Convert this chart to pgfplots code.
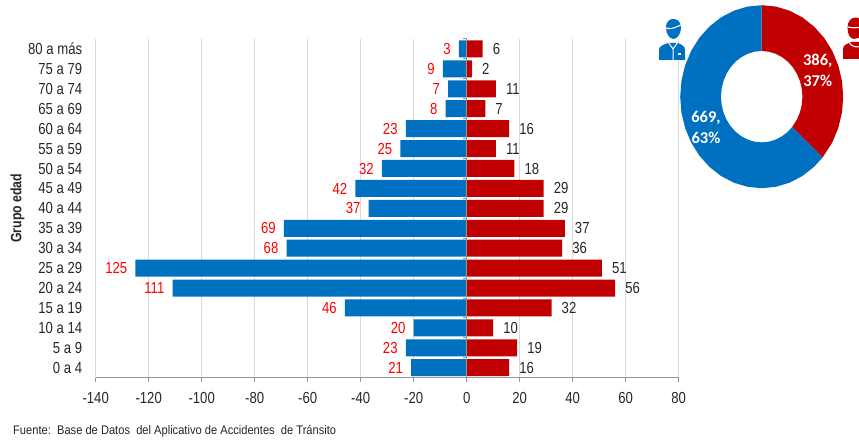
\documentclass[border=0pt]{standalone}
\usepackage{pgfplots}
\usepackage{pgfplotstable}
\pgfplotsset{compat=1.18}
\usepackage{fontspec}
\setmainfont[FakeStretch=0.82]{Liberation Sans}
\newfontfamily\fuentefont[FakeStretch=0.89]{Liberation Sans}
\newfontfamily\donutfont{Carlito}
\definecolor{azul}{HTML}{0070C0}
\definecolor{rojo}{HTML}{C00000}
\definecolor{rejilla}{HTML}{D9D9D9}
\definecolor{eje}{HTML}{969696}

\pgfplotstableread{
pos grupo azul rojo
0 {0 a 4} 21 16
1 {5 a 9} 23 19
2 {10 a 14} 20 10
3 {15 a 19} 46 32
4 {20 a 24} 111 56
5 {25 a 29} 125 51
6 {30 a 34} 68 36
7 {35 a 39} 69 37
8 {40 a 44} 37 29
9 {45 a 49} 42 29
10 {50 a 54} 32 18
11 {55 a 59} 25 11
12 {60 a 64} 23 16
13 {65 a 69} 8 7
14 {70 a 74} 7 11
15 {75 a 79} 9 2
16 {80 a más} 3 6
}\piramide

\begin{document}
\begin{tikzpicture}[x=1pt,y=1pt]
\path[use as bounding box] (0,0) rectangle (859,441);

\begin{axis}[
    at={(95.7pt,63.3pt)},
    anchor=south west,
    scale only axis,
    width=583pt,
    height=338.7pt,
    xmin=-140, xmax=80,
    ymin=-0.5, ymax=16.5,
    xtick={-140,-120,...,80},
    ytick={0,...,16},
    yticklabels from table={\piramide}{grupo},
    axis x line*=bottom,
    axis y line*=left,
    x axis line style={draw=eje,line width=1pt,-},
    y axis line style={draw=none},
    xtick style={draw=eje,line width=1pt},
    ytick style={draw=none},
    tick align=outside,
    major tick length=4pt,
    xmajorgrids,
    grid style={rejilla,line width=1.2pt},
    tick label style={font=\fontsize{16}{16}\selectfont,text=black!85},
    /pgf/number format/assume math mode=true,
    xticklabel style={yshift=-7pt},
    yticklabel style={xshift=-6pt},
    ylabel={Grupo edad},
    every axis y label/.style={at={(axis description cs:-0.134,0.5)},rotate=90,anchor=center,
        font=\bfseries\fontsize{15}{15}\selectfont,text=black!85},
    xbar,
    bar shift=0pt,
    bar width=17pt,
    point meta=explicit,
    nodes near coords,
    clip=false,
]
\addplot[fill=azul,draw=none,
    every node near coord/.style={anchor=east,xshift=-8pt,inner sep=0pt,text=red,font=\fontsize{16}{16}\selectfont}]
    table[x expr=-\thisrow{azul},y=pos,meta=azul]{\piramide};
\addplot[fill=rojo,draw=none,
    every node near coord/.style={anchor=west,xshift=10pt,inner sep=0pt,text=black!85,font=\fontsize{16}{16}\selectfont}]
    table[x=rojo,y=pos,meta=rojo]{\piramide};
% eje central con sus marcas
\draw[eje,line width=1pt] (axis cs:0,-0.5) -- (axis cs:0,16.5);
\pgfplotsinvokeforeach{-0.5,0.5,...,16.5}{
    \draw[eje,line width=1pt] (axis cs:0,#1) -- ++(-4pt,0pt);
}
\end{axis}

% dona: angulo y radio de cada sector (386 y 669), algo alargada en vertical
\begin{axis}[
    at={(761.7pt,344.3pt)},
    anchor=origin,
    scale only axis,
    x=1pt,y=1.1227pt,
    xmin=-82,xmax=82,ymin=-82,ymax=82,
    hide axis,
    clip=false,
]
\addplot[fill=rojo,draw=none,data cs=polar] coordinates {
    (90,81.5) (80,81.5) (70,81.5) (60,81.5) (50,81.5) (40,81.5) (30,81.5) (20,81.5)
    (10,81.5) (0,81.5) (-10,81.5) (-20,81.5) (-30,81.5) (-41.7,81.5)
    (-41.7,40.7) (-30,40.7) (-20,40.7) (-10,40.7) (0,40.7) (10,40.7) (20,40.7)
    (30,40.7) (40,40.7) (50,40.7) (60,40.7) (70,40.7) (80,40.7) (90,40.7)
} -- cycle;
\addplot[fill=azul,draw=none,data cs=polar] coordinates {
    (-41.7,81.5) (-50,81.5) (-60,81.5) (-70,81.5) (-80,81.5) (-90,81.5) (-100,81.5) (-110,81.5)
    (-120,81.5) (-130,81.5) (-140,81.5) (-150,81.5) (-160,81.5) (-170,81.5) (-180,81.5)
    (-190,81.5) (-200,81.5) (-210,81.5) (-220,81.5) (-230,81.5) (-240,81.5) (-250,81.5)
    (-260,81.5) (-270,81.5)
    (-270,40.7) (-260,40.7) (-250,40.7) (-240,40.7) (-230,40.7) (-220,40.7) (-210,40.7)
    (-200,40.7) (-190,40.7) (-180,40.7) (-170,40.7) (-160,40.7) (-150,40.7) (-140,40.7)
    (-130,40.7) (-120,40.7) (-110,40.7) (-100,40.7) (-90,40.7) (-80,40.7) (-70,40.7)
    (-60,40.7) (-50,40.7) (-41.7,40.7)
} -- cycle;
\end{axis}

\node[text=white,align=center,font=\donutfont\bfseries\fontsize{16.5}{21}\selectfont] at (817.7,370.5) {386,\\37\%};
\node[text=white,align=center,font=\donutfont\bfseries\fontsize{16.5}{21}\selectfont] at (706,314) {669,\\63\%};

% iconos, en pixeles de la imagen
\begin{scope}[shift={(0,441)},yscale=-1]
% azul
\fill[azul] (659,60) -- (659,50) .. controls (659,46) and (663,45) .. (668,43) -- (678,43)
    .. controls (682,45) and (685,46) .. (685,50) -- (685,60) -- cycle;
\fill[azul] (666,28) .. controls (666,21) and (670,19) .. (673,19) .. controls (677,19) and (681,21) .. (681,28)
    .. controls (681,34) and (677,39) .. (673.5,39) .. controls (670,39) and (666,34) .. (666,28) -- cycle;
\draw[white,line width=1.1pt] (666,28) .. controls (671,30) and (676,27) .. (681,25);
\draw[white,line width=1pt] (668,42) -- (673,49) -- (678,42) (673,49) -- (673,60);
\fill[white] (677.5,53) rectangle (681,55);
% rojo, cortado por el borde
\fill[rojo] (843,59) -- (843,49) .. controls (843,45) and (847,44) .. (851,42) -- (862,42) -- (862,59) -- cycle;
\fill[rojo] (847.5,28) .. controls (847.5,21) and (851,17.5) .. (856,17.5) .. controls (860,17.5) and (862,21) .. (862,28)
    -- (862,34) .. controls (860,38) and (857,39) .. (854,39) .. controls (850,39) and (847.5,34) .. (847.5,28) -- cycle;
\draw[white,line width=1.1pt] (848,27) .. controls (852,28) and (857,28) .. (862,27);
\draw[white,line width=1.1pt] (849,42) .. controls (851,47) and (857,48) .. (862,46);
\end{scope}

\node[anchor=west,inner sep=0pt,font=\fuentefont\fontsize{12.5}{12.5}\selectfont,text=black!85] at (13,9.5) {Fuente:\ \ Base de\ Datos\ \ del\ Aplicativo de\ Accidentes\ \ de Tránsito};
\end{tikzpicture}
\end{document}
